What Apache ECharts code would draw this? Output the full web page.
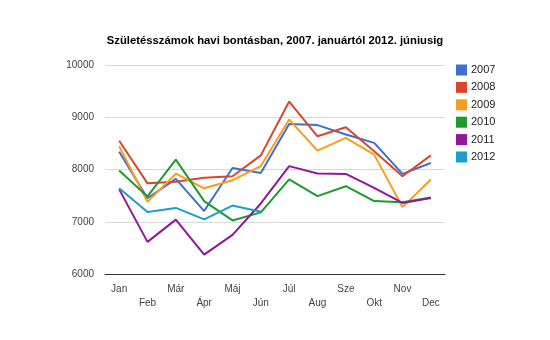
<!DOCTYPE html>
<html><head><meta charset="utf-8">
<script src="https://cdn.jsdelivr.net/npm/echarts@6/dist/echarts.min.js"></script>
<style>html,body{margin:0;padding:0;background:#fff}#c{width:550px;height:340px}</style>
</head><body><div id="c"></div>
<script>
const months = ['Jan','Feb','Már','Ápr','Máj','Jún','Júl','Aug','Sze','Okt','Nov','Dec'];
const y2007 = [8340, 7450, 7820, 7205, 8030, 7935, 8870, 8850, 8670, 8510, 7915, 8125];
const y2008 = [8550, 7735, 7765, 7840, 7870, 8270, 9300, 8635, 8810, 8350, 7870, 8270];
const y2009 = [8445, 7380, 7920, 7640, 7795, 8065, 8955, 8360, 8605, 8285, 7280, 7810];
const y2010 = [7980, 7485, 8190, 7395, 7025, 7180, 7810, 7490, 7680, 7395, 7375, 7465];
const y2011 = [7620, 6615, 7040, 6370, 6750, 7350, 8065, 7925, 7915, 7650, 7360, 7455];
const y2012 = [7640, 7185, 7265, 7045, 7310, 7190];
const seriesNames = ['2007','2008','2009','2010','2011','2012'];
const seriesData = [y2007, y2008, y2009, y2010, y2011, y2012];
const colors = ['#3d6fcf','#d9472a','#f99d1c','#1e9a2e','#93169a','#1b9fc8'];

const chart = echarts.init(document.getElementById('c'));
chart.setOption({
  animation: false,
  title: {
    text: 'Születésszámok havi bontásban, 2007. januártól 2012. júniusig',
    left: 270, textAlign: 'center', top: 30,
    textStyle: {fontFamily: 'Liberation Sans, Arial', fontSize: 11.3, fontWeight: 'bold', color: '#000'}
  },
  legend: {
    orient: 'vertical', left: 456, top: 64.5, itemGap: 6.4, padding: 0,
    itemWidth: 11, itemHeight: 11, icon: 'rect',
    textStyle: {fontFamily: 'Liberation Sans, Arial', fontSize: 11, color: '#222', padding: [0,0,0,-1]},
    data: seriesNames
  },
  grid: {left: 105, top: 65, width: 340, height: 209, containLabel: false},
  xAxis: {
    type: 'category', data: months, boundaryGap: true,
    axisLine: {lineStyle: {color: '#333', width: 1}},
    axisTick: {show: false},
    axisLabel: {
      interval: 0, color: '#444', fontFamily: 'Liberation Sans, Arial', fontSize: 10,
      margin: 8, lineHeight: 14,
      formatter: (v, i) => (i % 2 === 1 ? '\n' + v : v)
    }
  },
  yAxis: {
    type: 'value', min: 6000, max: 10000, interval: 1000,
    axisLine: {show: false}, axisTick: {show: false},
    splitLine: {lineStyle: {color: '#d8d8d8'}},
    axisLabel: {color: '#444', fontFamily: 'Liberation Sans, Arial', fontSize: 10, margin: 11,
      formatter: v => String(v)}
  },
  series: seriesNames.map((n, i) => ({
    name: n, type: 'line', data: seriesData[i], showSymbol: false, symbol: 'none',
    lineStyle: {width: 2, color: colors[i]}, itemStyle: {color: colors[i]}
  }))
});
</script></body></html>
